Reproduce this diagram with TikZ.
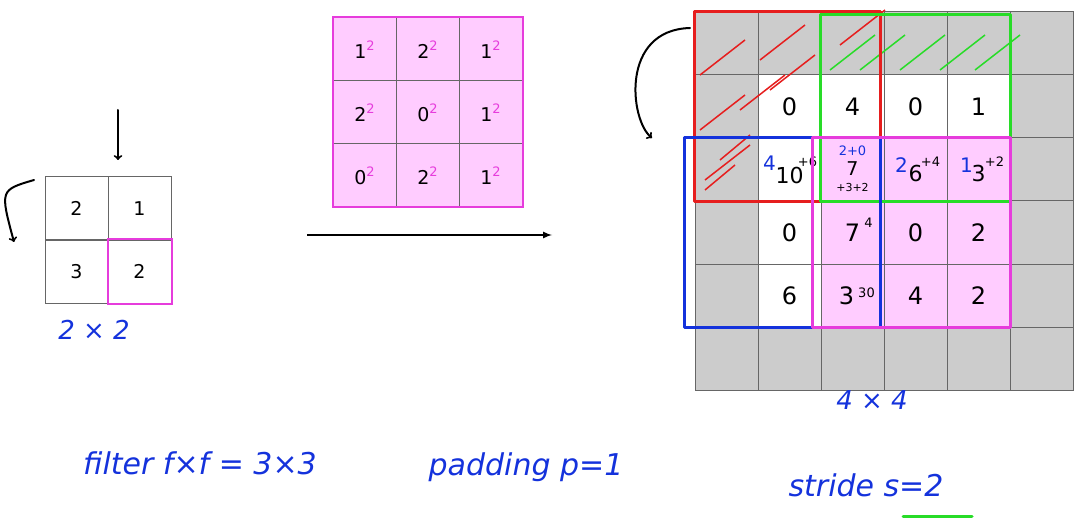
\documentclass[tikz,border=0pt]{standalone}
\usepackage{fontspec}
\setsansfont{DejaVu Sans}
\usetikzlibrary{positioning}
\definecolor{cellgray}{RGB}{204,204,204}
\definecolor{pinkfill}{RGB}{255,204,255}
\definecolor{magline}{RGB}{230,60,220}
\definecolor{penblue}{RGB}{20,50,220}
\definecolor{pengreen}{RGB}{40,220,40}
\definecolor{penred}{RGB}{230,30,30}
\newcommand{\sqmark}{\raisebox{8pt}{\color{magline}\fontsize{13}{14}\selectfont 2}}
\tikzset{
  cellbox/.style={draw=black!60, line width=1pt, minimum size=63pt, inner sep=0pt, font=\sffamily\fontsize{19}{22}\selectfont},
  hand/.style={text=penblue, font=\sffamily\itshape\fontsize{30}{34}\selectfont},
  pen/.style={line width=2.5pt, line cap=round, line join=round}
}
\begin{document}
\begin{tikzpicture}[x=1pt,y=-1pt]
		\useasboundingbox (0,0) rectangle (1080,524);
		% input 2x2
		\node [cellbox] (i11) at (76.5,208.5) {2};
		\node [cellbox] (i12) at (139.5,208.5) {1};
		\node [cellbox] (i21) at (76.5,271.5) {3};
		\node [cellbox] (i22) at (139.5,271.5) {2};
		\draw [magline, line width=2pt] (i22.north west) rectangle (i22.south east);
		\node [hand, font=\sffamily\itshape\fontsize{26}{30}\selectfont] (insize) at (94,330) {2 × 2};
		\coordinate (dtop) at (118,110);
		\coordinate (dbot) at (118,160);
		\draw [pen, line width=2pt, ->] (dtop) -- (dbot);
		\coordinate (ltop) at (34,180);
		\coordinate (lbot) at (14,242);
		\draw [pen, line width=2pt, ->] (ltop) .. controls (0,190) .. (lbot);
		% filter 3x3
		\foreach \r/\row in {1/{1,2,1},2/{2,0,1},3/{0,2,1}}{
			\foreach \v [count=\c] in \row{
				\node [cellbox, fill=pinkfill] (f\r\c) at (301.5+63*\c,-13.5+63*\r) {\v\sqmark};
			}
		}
		\draw [magline, line width=2pt] (f11.north west) rectangle (f33.south east);
		\coordinate (astart) at (307,235);
		\coordinate (aend) at (552,235);
		\draw [line width=2pt, -latex] (astart) -- (aend);
		% padded 6x6
		\foreach \r in {1,...,6}{
			\foreach \c in {1,...,6}{
				\node [cellbox, fill=cellgray] (g\r\c) at (663.5+63*\c,-19.5+63*\r) {};
			}
		}
		\foreach \r in {2,...,5}{
			\foreach \c in {2,...,5}{
				\node [cellbox, fill=white] at (g\r\c) {};
			}
		}
		\foreach \r in {3,...,5}{
			\foreach \c in {3,...,5}{
				\node [cellbox, fill=pinkfill] at (g\r\c) {};
			}
		}
		% hatching
		\foreach \a/\b in {700/75,700/130,705/180,740/110,760/60,770/90,840/45}{
			\draw [penred, line width=1.5pt] (\a,\b) -- ++(45,-35);
		}
		\foreach \a in {830,860,900,940,975}{
			\draw [pengreen, line width=1.5pt] (\a,70) -- ++(45,-35);
		}
		\foreach \a/\b in {705/190,720/160}{
			\draw [penred, line width=1.5pt] (\a,\b) -- ++(30,-25);
		}
		% cell values
		\node [font=\sffamily\fontsize{24}{28}\selectfont] at (g22) {0};
		\node [font=\sffamily\fontsize{24}{28}\selectfont] at (g23) {4};
		\node [font=\sffamily\fontsize{24}{28}\selectfont] at (g24) {0};
		\node [font=\sffamily\fontsize{24}{28}\selectfont] at (g25) {1};
		\node [font=\sffamily\fontsize{22}{26}\selectfont] at ([yshift=-6pt]g32) {10};
		\node [font=\sffamily\fontsize{13}{14}\selectfont] at ([xshift=18pt,yshift=8pt]g32) {+6};
		\node [text=penblue, font=\sffamily\fontsize{20}{22}\selectfont] at ([xshift=-20pt,yshift=6pt]g32) {4};
		\node [font=\sffamily\fontsize{19}{22}\selectfont] at ([yshift=1pt]g33) {7};
		\node [text=penblue, font=\sffamily\fontsize{13}{14}\selectfont] at ([yshift=19pt]g33) {2+0};
		\node [font=\sffamily\fontsize{11}{12}\selectfont] at ([yshift=-18pt]g33) {+3+2};
		\node [font=\sffamily\fontsize{22}{26}\selectfont] at ([yshift=-4pt]g34) {6};
		\node [font=\sffamily\fontsize{13}{14}\selectfont] at ([xshift=15pt,yshift=8pt]g34) {+4};
		\node [text=penblue, font=\sffamily\fontsize{20}{22}\selectfont] at ([xshift=-14pt,yshift=4pt]g34) {2};
		\node [font=\sffamily\fontsize{22}{26}\selectfont] at ([yshift=-4pt]g35) {3};
		\node [font=\sffamily\fontsize{13}{14}\selectfont] at ([xshift=16pt,yshift=8pt]g35) {+2};
		\node [text=penblue, font=\sffamily\fontsize{20}{22}\selectfont] at ([xshift=-12pt,yshift=4pt]g35) {1};
		\node [font=\sffamily\fontsize{24}{28}\selectfont] at (g42) {0};
		\node [font=\sffamily\fontsize{24}{28}\selectfont] at (g43) {7};
		\node [font=\sffamily\fontsize{13}{14}\selectfont] at ([xshift=16pt,yshift=10pt]g43) {4};
		\node [font=\sffamily\fontsize{24}{28}\selectfont] at (g44) {0};
		\node [font=\sffamily\fontsize{24}{28}\selectfont] at (g45) {2};
		\node [font=\sffamily\fontsize{24}{28}\selectfont] at (g52) {6};
		\node [font=\sffamily\fontsize{24}{28}\selectfont] at ([xshift=-6pt]g53) {3};
		\node [font=\sffamily\fontsize{13}{14}\selectfont] at ([xshift=14pt,yshift=3pt]g53) {30};
		\node [font=\sffamily\fontsize{24}{28}\selectfont] at (g54) {4};
		\node [font=\sffamily\fontsize{24}{28}\selectfont] at (g55) {2};
		% windows
		\draw [penred, pen] (g11.north west) rectangle ([xshift=-4pt]g33.south east);
		\draw [pengreen, pen] ([yshift=-3pt]g13.north west) rectangle (g35.south east);
		\draw [penblue, pen] ([xshift=-10pt]g31.north west) rectangle ([xshift=-4pt]g53.south east);
		\draw [magline, pen] ([xshift=-8pt]g33.north west) rectangle (g55.south east);
		\coordinate (ctop) at (690,28);
		\coordinate (cbot) at (652,138);
		\draw [pen, line width=2pt, ->] (ctop) .. controls (620,30) and (630,120) .. (cbot);
		\node [hand, font=\sffamily\itshape\fontsize{26}{30}\selectfont] (outsize) at (872,400) {4 × 4};
		% labels
		\node [hand] (filt) at (200,463) {filter f×f = 3×3};
		\node [hand] (pad) at (526,467) {padding p=1};
		\node [hand] (strd) at (866,485) {stride s=2};
		\coordinate (ul) at (903,516);
		\coordinate (ur) at (972,516);
		\draw [pengreen, pen, line width=3pt] (ul) -- (ur);
\end{tikzpicture}
\end{document}
